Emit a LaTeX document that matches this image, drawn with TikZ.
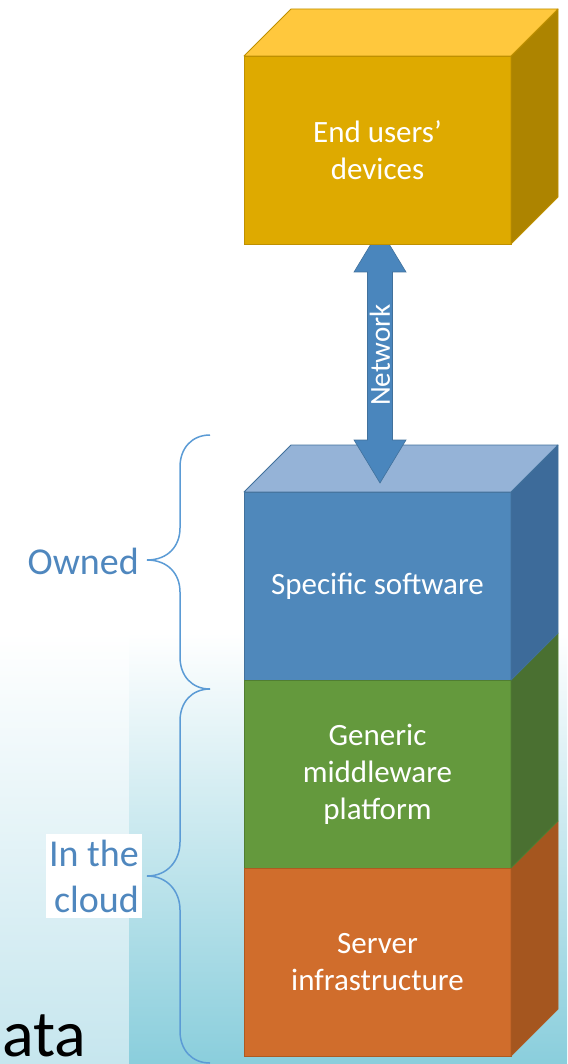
\documentclass[tikz,border=0pt]{standalone}
\usepackage{fontspec}
\setmainfont{Carlito}
\usetikzlibrary{positioning}
\definecolor{user-front}{HTML}{DEAA00}
\definecolor{user-top}{HTML}{FFC83D}
\definecolor{user-side}{HTML}{AD8400}
\definecolor{user-edge}{HTML}{BF9000}
\definecolor{soft-front}{HTML}{4F88BB}
\definecolor{soft-top}{HTML}{95B3D7}
\definecolor{soft-side}{HTML}{3D6B9A}
\definecolor{soft-edge}{HTML}{41719C}
\definecolor{mid-front}{HTML}{64993D}
\definecolor{mid-side}{HTML}{4A7031}
\definecolor{mid-edge}{HTML}{507E32}
\definecolor{infra-front}{HTML}{D06D2C}
\definecolor{infra-side}{HTML}{A5561F}
\definecolor{infra-edge}{HTML}{AE5A21}
\definecolor{net-blue}{HTML}{4A86BD}
\definecolor{brace-blue}{HTML}{5B9BD5}
\definecolor{label-blue}{HTML}{4F87BE}
\definecolor{sky-mid}{HTML}{DFF1F5}
\definecolor{sky-deep}{HTML}{8ACEDC}
\definecolor{haze-mid}{HTML}{F2F9FB}
\definecolor{haze-deep}{HTML}{C6E6EE}

\tikzset{
  face/.style={minimum width=267pt, minimum height=188pt, inner sep=0pt, outer sep=0pt,
    line width=0.8pt, text=white, align=center, font=\fontsize{31}{37}\selectfont},
  brace/.style={draw=brace-blue, line width=1.5pt},
  sidelabel/.style={text=label-blue, align=right, font=\fontsize{38}{46}\selectfont}
}

% right face and top face of a block
\newcommand{\blockside}[3]{%
  \filldraw[fill=#2, draw=#3, line width=0.8pt, line join=round]
    (#1.north east) -- ++(47,-47) -- ++(0,188) -- (#1.south east) -- cycle;}
\newcommand{\blocktop}[3]{%
  \filldraw[fill=#2, draw=#3, line width=0.8pt, line join=round]
    (#1.north west) -- ++(47,-47) -- ++(267,0) -- (#1.north east) -- cycle;}

\begin{document}
\begin{tikzpicture}[x=1pt, y=-1pt]
\useasboundingbox (0,0) rectangle (567,1064);

% sky in the background
\shade[top color=white, middle color=haze-mid, bottom color=haze-deep] (0,633) rectangle (129,1064);
\shade[top color=white, middle color=sky-mid, bottom color=sky-deep] (129,633) rectangle (567,1064);
\node[anchor=base west, inner sep=0pt, font=\fontsize{66}{66}\selectfont] (data) at (2,1056) {ata};

% the stack
\node[face, fill=soft-front, draw=soft-edge] (soft) at (377.5,586) {Specific software};
\node[face, fill=mid-front, draw=mid-edge, below=0pt of soft] (mid) {Generic\\middleware\\platform};
\node[face, fill=infra-front, draw=infra-edge, below=0pt of mid] (infra) {Server\\infrastructure};
\blockside{infra}{infra-side}{infra-edge}
\blockside{mid}{mid-side}{mid-edge}
\blockside{soft}{soft-side}{soft-edge}
\blocktop{soft}{soft-top}{soft-edge}

% network arrow
\coordinate (net-up) at (380,229);
\coordinate (net-down) at (380,483);
\filldraw[fill=net-blue, draw=soft-edge, line width=0.6pt]
  (net-up) -- ++(26,43) -- ++(-13.5,0) -- ++(0,168) -- ++(13.5,0) -- (net-down)
  -- ++(-26,-43) -- ++(13.5,0) -- ++(0,-168) -- ++(-13.5,0) -- cycle;
\node[rotate=90, text=white, font=\fontsize{29}{30}\selectfont] (net-label) at (380,355) {Network};

% end users
\node[face, fill=user-front, draw=user-edge] (user) at (377.5,150) {End users'\\devices};
\blockside{user}{user-side}{user-edge}
\blocktop{user}{user-top}{user-edge}

% braces
\draw[brace] (210,435) .. controls (192,435) and (180,448) .. (180,467) -- (180,528)
  .. controls (180,546) and (168,560) .. (147,560) .. controls (168,560) and (180,574) .. (180,592)
  -- (180,657) .. controls (180,676) and (192,689) .. (210,689);
\draw[brace] (210,689) .. controls (192,689) and (180,702) .. (180,721) -- (180,842)
  .. controls (180,860) and (168,876) .. (147,876) .. controls (168,876) and (180,892) .. (180,910)
  -- (180,1031) .. controls (180,1050) and (192,1063) .. (210,1063);
\node[sidelabel, anchor=base east, inner sep=0pt] (owned) at (139,574) {Owned};
\node[sidelabel, fill=white, anchor=east, inner xsep=3pt, inner ysep=6pt] (cloud) at (142,876) {In the\\cloud};
\end{tikzpicture}
\end{document}
